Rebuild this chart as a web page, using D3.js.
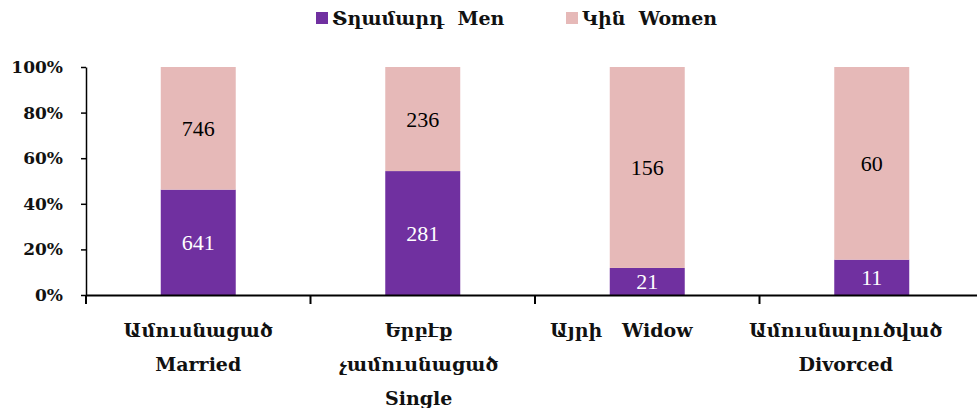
<!DOCTYPE html>
<html>
<head>
<meta charset="utf-8">
<script src="https://cdn.jsdelivr.net/npm/d3@7"></script>
<style>
  body { margin: 0; background: #fff; }
  svg { display: block; }
</style>
</head>
<body>
<div id="chart"></div>
<script>
// Data
const categories = ["married", "single", "widow", "divorced"];
const categoryLabels = [
  ["Ամուսնացած", "Married"],
  ["Երբէք", "չամուսնացած", "Single"],
  ["Այրի   Widow"],
  ["Ամուսնալուծված", "Divorced"]
];
const men = [641, 281, 21, 11];
const women = [746, 236, 156, 60];
const seriesNames = ["Տղամարդ  Men", "Կին  Women"];
const seriesColors = ["#7030A0", "#E6B9B8"];
const yTicks = [0, 0.2, 0.4, 0.6, 0.8, 1];

const W = 977, H = 408;
const margin = { top: 67, right: -7, bottom: 113, left: 86 };
const width = W - margin.left - margin.right;
const height = H - margin.top - margin.bottom;
const font = "'DejaVu Serif', 'Liberation Serif', serif";

const rows = categories.map((c, i) => ({
  cat: c,
  men: men[i] / (men[i] + women[i]),
  women: women[i] / (men[i] + women[i]),
  menN: men[i],
  womenN: women[i]
}));

const svg = d3.select("#chart").append("svg")
  .attr("width", W)
  .attr("height", H);

const g = svg.append("g")
  .attr("transform", `translate(${margin.left},${margin.top})`);

const x = d3.scaleBand()
  .domain(categories)
  .range([0, width])
  .paddingInner(0.666)
  .paddingOuter(0.333);

const xTick = d3.scaleBand().domain(categories).range([0, width]);

const y = d3.scaleLinear().domain([0, 1]).range([height, 0]);

// Bars
const stack = d3.stack().keys(["men", "women"]);
const layers = stack(rows);

layers.forEach((layer, li) => {
  g.selectAll(`.bar-${li}`)
    .data(layer)
    .join("rect")
    .attr("class", `bar-${li}`)
    .attr("x", (d) => x(d.data.cat))
    .attr("width", x.bandwidth())
    .attr("y", (d) => y(d[1]))
    .attr("height", (d) => y(d[0]) - y(d[1]))
    .attr("fill", seriesColors[li]);

  g.selectAll(`.lbl-${li}`)
    .data(layer)
    .join("text")
    .attr("class", `lbl-${li}`)
    .attr("x", (d) => x(d.data.cat) + x.bandwidth() / 2)
    .attr("y", (d) => (y(d[0]) + y(d[1])) / 2)
    .attr("dy", "0.36em")
    .attr("text-anchor", "middle")
    .style("font-family", "'Liberation Serif', serif")
    .style("font-size", "22px")
    .style("fill", li === 0 ? "#fff" : "#000")
    .text((d) => (li === 0 ? d.data.menN : d.data.womenN));
});

// Y axis
const yAxis = g.append("g")
  .call(d3.axisLeft(y).tickValues(yTicks).tickFormat(d3.format(".0%")).tickSize(5).tickSizeOuter(0));
yAxis.select(".domain").attr("stroke", "#000").attr("stroke-width", 1.5);
yAxis.selectAll(".tick line").attr("stroke", "#000").attr("stroke-width", 1.5);
yAxis.selectAll("text")
  .attr("x", -23)
  .style("font-family", font)
  .style("font-size", "17px")
  .style("font-weight", "bold")
  .style("fill", "#111");

// X axis
const xAxis = g.append("g")
  .attr("transform", `translate(0,${height})`)
  .call(d3.axisBottom(xTick).tickSize(0).tickFormat(""));
xAxis.select(".domain").attr("stroke", "#000").attr("stroke-width", 2);

// category separators
g.selectAll(".sep")
  .data(categories)
  .join("line")
  .attr("class", "sep")
  .attr("x1", (d) => xTick(d))
  .attr("x2", (d) => xTick(d))
  .attr("y1", height)
  .attr("y2", height + 9)
  .attr("stroke", "#000")
  .attr("stroke-width", 2);

// category labels (last two sit a little left of their band centre)
const labelShift = [0, -4, -26, -26];
categories.forEach((c, i) => {
  const cx = xTick(c) + xTick.bandwidth() / 2 + labelShift[i];
  const t = g.append("text")
    .attr("x", cx)
    .attr("y", height + 42)
    .attr("text-anchor", "middle")
    .style("font-family", font)
    .style("font-size", "19px")
    .style("font-weight", "bold")
    .style("fill", "#111")
    .style("white-space", "pre");
  categoryLabels[i].forEach((line, j) => {
    t.append("tspan")
      .attr("x", cx)
      .attr("dy", j === 0 ? 0 : 34)
      .text(line);
  });
});

// Legend
const legendX = [316, 566];
seriesNames.forEach((name, i) => {
  svg.append("rect")
    .attr("x", legendX[i])
    .attr("y", 12)
    .attr("width", 12)
    .attr("height", 12)
    .attr("fill", seriesColors[i]);
  svg.append("text")
    .attr("x", legendX[i] + 16)
    .attr("y", 25)
    .style("font-family", font)
    .style("font-size", "19px")
    .style("font-weight", "bold")
    .style("fill", "#111")
    .style("white-space", "pre")
    .text(name);
});
</script>
</body>
</html>
